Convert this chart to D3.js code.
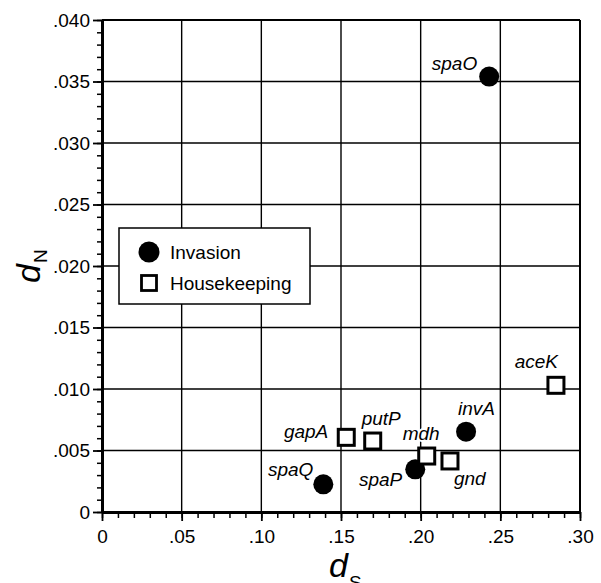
<!DOCTYPE html>
<html>
<head>
<meta charset="UTF-8">
<title>dN vs dS</title>
<script src="https://cdn.jsdelivr.net/npm/d3@7/dist/d3.min.js"></script>
<style>
  body { margin: 0; background: #fff; }
  svg text { font-family: "Liberation Sans", Arial, Helvetica, sans-serif; fill: #000; }
  .axis path, .axis line { stroke: #000; }
  .axis text { font-size: 19px; }
  .lbl { font-style: italic; font-size: 19px; paint-order: stroke; stroke: #fff; stroke-width: 4px; stroke-linejoin: round; }
</style>
</head>
<body>
<svg id="chart" width="601" height="583"></svg>
<script>
// data
var genes    = ["spaO", "invA", "spaP", "spaQ", "gapA", "putP", "mdh", "gnd", "aceK"];
var groups   = ["Invasion", "Invasion", "Invasion", "Invasion", "Housekeeping", "Housekeeping", "Housekeeping", "Housekeeping", "Housekeeping"];
var dS       = [0.243, 0.2285, 0.1966, 0.1389, 0.1533, 0.1699, 0.2038, 0.2184, 0.2849];
var dN       = [0.0354, 0.00653, 0.00347, 0.00225, 0.00607, 0.00577, 0.00455, 0.00415, 0.0103];
var xTicks   = [0, 0.05, 0.10, 0.15, 0.20, 0.25, 0.30];
var yTicks   = [0, 0.005, 0.010, 0.015, 0.020, 0.025, 0.030, 0.035, 0.040];
var legendItems = ["Invasion", "Housekeeping"];

// where each gene label sits relative to its marker
var labelPos = {
  spaO: [-12, -7, "end"],
  invA: [-8, -17, "start"],
  spaP: [-13, 17, "end"],
  spaQ: [-10, -8, "end"],
  gapA: [-18, 1, "end"],
  putP: [-11, -16, "start"],
  mdh:  [-24, -16, "start"],
  gnd:  [4, 24, "start"],
  aceK: [2, -17, "end"]
};

var pts = genes.map(function (g, i) {
  return { gene: g, group: groups[i], x: dS[i], y: dN[i] };
});

var svg = d3.select("#chart");
var mLeft = 102, mRight = 580, mTop = 20, mBottom = 512;

var x = d3.scaleLinear().domain([0, 0.30]).range([mLeft, mRight]);
var y = d3.scaleLinear().domain([0, 0.040]).range([mBottom, mTop]);

var fmtY = function (d) { return d === 0 ? "0" : d3.format(".3f")(d).replace(/^0/, ""); };
var fmtX = function (d) { return d === 0 ? "0" : d3.format(".2f")(d).replace(/^0/, ""); };

// grid
var grid = svg.append("g");
grid.selectAll(".gx").data(xTicks.slice(1)).enter().append("line")
  .attr("x1", function (d) { return x(d); }).attr("x2", function (d) { return x(d); })
  .attr("y1", mTop).attr("y2", mBottom)
  .attr("stroke", "#000").attr("stroke-width", function (d, i) { return i === xTicks.length - 2 ? 2 : 1.4; });
grid.selectAll(".gy").data(yTicks.slice(1)).enter().append("line")
  .attr("y1", function (d) { return y(d); }).attr("y2", function (d) { return y(d); })
  .attr("x1", mLeft).attr("x2", mRight)
  .attr("stroke", "#000").attr("stroke-width", function (d, i) { return i === yTicks.length - 2 ? 2 : 1.4; });

// minor ticks
var xMinor = d3.range(0, 0.3001, 0.01);
var yMinor = d3.range(0, 0.0401, 0.001);
svg.append("g").attr("class", "axis")
  .attr("transform", "translate(0," + mBottom + ")")
  .call(d3.axisBottom(x).tickValues(xMinor).tickSize(6).tickSizeOuter(0).tickFormat(""))
  .call(function (g) { g.select(".domain").remove(); g.selectAll("line").attr("stroke-width", 1.5); });
svg.append("g").attr("class", "axis")
  .attr("transform", "translate(" + mLeft + ",0)")
  .call(d3.axisLeft(y).tickValues(yMinor).tickSize(5).tickSizeOuter(0).tickFormat(""))
  .call(function (g) { g.select(".domain").remove(); g.selectAll("line").attr("stroke-width", 1.5); });

// major axes
var xAxis = svg.append("g").attr("class", "axis")
  .attr("transform", "translate(0," + mBottom + ")")
  .call(d3.axisBottom(x).tickValues(xTicks).tickSize(9).tickSizeOuter(0).tickPadding(9).tickFormat(fmtX));
xAxis.attr("font-family", null).attr("font-size", null);
xAxis.select(".domain").attr("stroke-width", 3);
xAxis.selectAll("line").attr("stroke-width", 1.8);

var yAxis = svg.append("g").attr("class", "axis")
  .attr("transform", "translate(" + mLeft + ",0)")
  .call(d3.axisLeft(y).tickValues(yTicks).tickSize(9).tickSizeOuter(0).tickPadding(3).tickFormat(fmtY));
yAxis.attr("font-family", null).attr("font-size", null);
yAxis.select(".domain").attr("stroke-width", 3);
yAxis.selectAll("line").attr("stroke-width", 1.8);

// axis titles
var xt = svg.append("text").attr("x", 329).attr("y", 577);
xt.append("tspan").attr("font-size", 34).attr("font-style", "italic").text("d");
xt.append("tspan").attr("font-size", 19).attr("dx", 1).attr("dy", 12).text("S");

var yt = svg.append("text").attr("transform", "translate(40,283) rotate(-90)");
yt.append("tspan").attr("font-size", 34).attr("font-style", "italic").text("d");
yt.append("tspan").attr("font-size", 19).attr("dx", 1).attr("dy", 7).text("N");

// legend
var lg = svg.append("g");
lg.append("rect").attr("x", 119).attr("y", 228).attr("width", 191).attr("height", 76)
  .attr("fill", "#fff").attr("stroke", "#000").attr("stroke-width", 1.5);
legendItems.forEach(function (k, i) {
  var cy = 252 + i * 31;
  if (k === "Invasion") {
    lg.append("circle").attr("cx", 149).attr("cy", cy).attr("r", 10.5).attr("fill", "#000");
  } else {
    lg.append("rect").attr("x", 141.5).attr("y", cy - 7.5).attr("width", 15).attr("height", 15)
      .attr("fill", "#fff").attr("stroke", "#000").attr("stroke-width", 2.8);
  }
  lg.append("text").attr("x", 170).attr("y", cy + 7).attr("font-size", 19).text(k);
});

// labels
svg.selectAll(".lbl").data(pts).enter().append("text").attr("class", "lbl")
  .attr("x", function (d) { return x(d.x) + labelPos[d.gene][0]; })
  .attr("y", function (d) { return y(d.y) + labelPos[d.gene][1]; })
  .attr("text-anchor", function (d) { return labelPos[d.gene][2]; })
  .text(function (d) { return d.gene; });

// markers
svg.selectAll(".inv").data(pts.filter(function (d) { return d.group === "Invasion"; })).enter()
  .append("circle")
  .attr("cx", function (d) { return x(d.x); })
  .attr("cy", function (d) { return y(d.y); })
  .attr("r", 10).attr("fill", "#000");
svg.selectAll(".hk").data(pts.filter(function (d) { return d.group === "Housekeeping"; })).enter()
  .append("rect")
  .attr("x", function (d) { return x(d.x) - 8; })
  .attr("y", function (d) { return y(d.y) - 8; })
  .attr("width", 16).attr("height", 16)
  .attr("fill", "#fff").attr("stroke", "#000").attr("stroke-width", 3);
</script>
</body>
</html>
